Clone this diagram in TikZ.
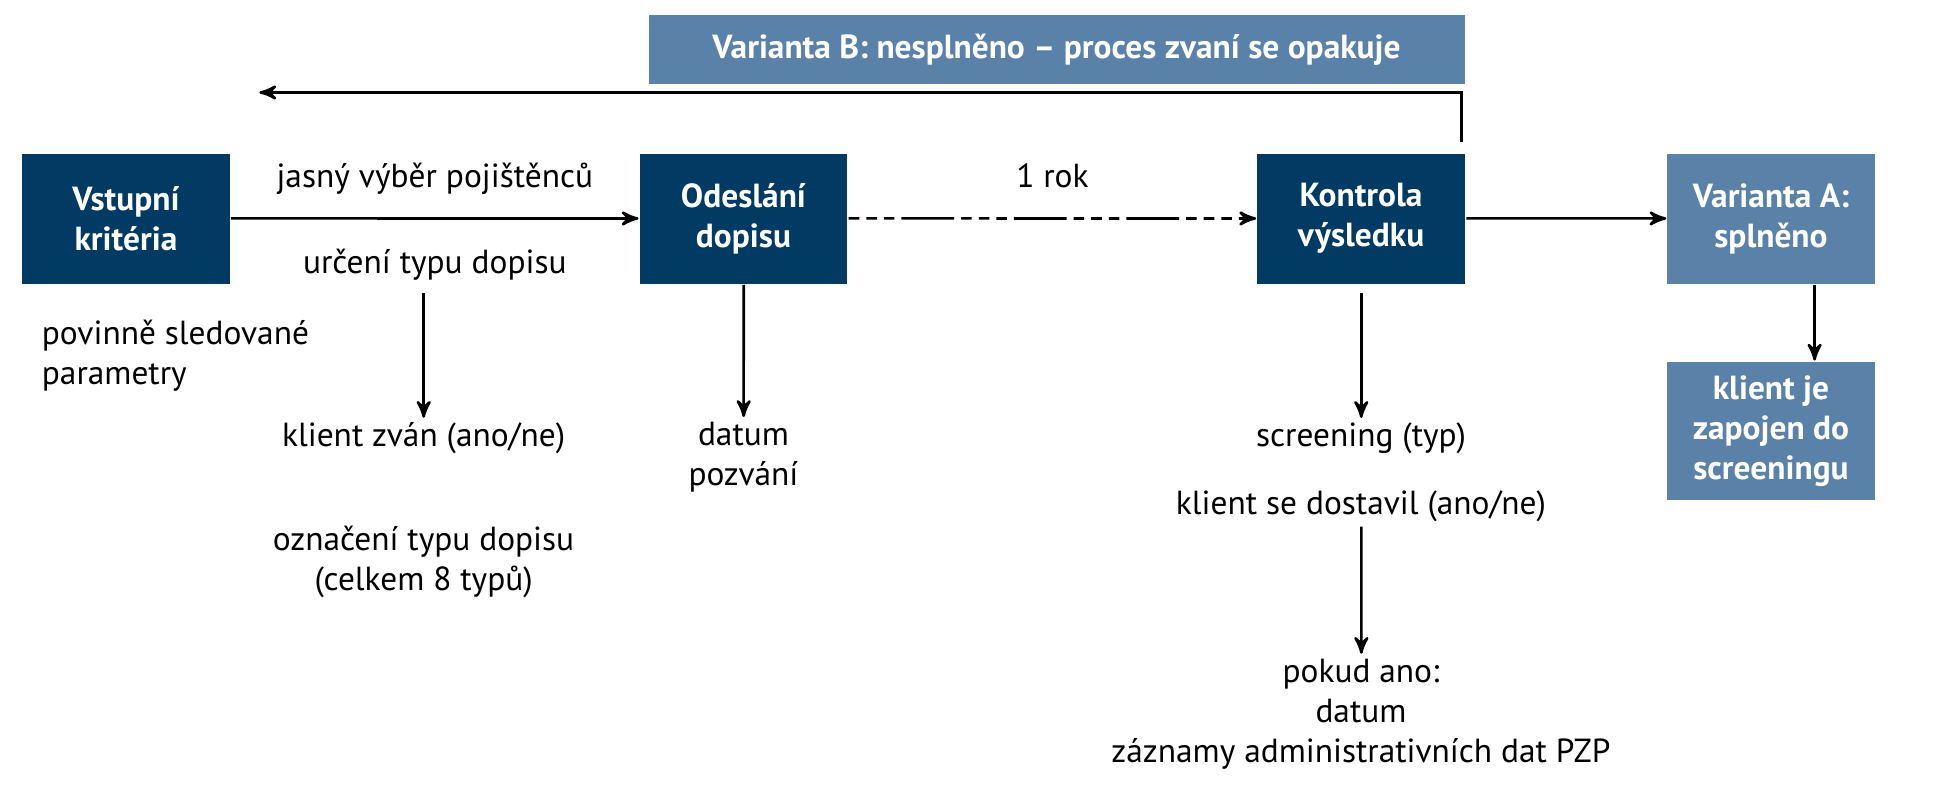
\documentclass[tikz,border=0pt]{standalone}
\usepackage{fontspec}
\setmainfont{PT Sans}
\usetikzlibrary{arrows,positioning}
\definecolor{navy}{HTML}{013A63}
\definecolor{steel}{HTML}{5A82A8}
\begin{document}
\begin{tikzpicture}[scale=1.235,->,>=stealth',line width=0.75pt,font=\fontsize{9.5}{11.4}\selectfont,
  dbox/.style={fill=navy,text=white,font=\fontsize{9.5}{11.4}\selectfont\bfseries,minimum width=2.075cm,minimum height=1.3cm,align=center,inner sep=1pt},
  lbox/.style={dbox,fill=steel},
  txt/.style={align=center,inner sep=1pt}]
\useasboundingbox (0,0) rectangle (15.66,6.48);
% main row
\node[dbox] (A) at (1.02,4.71) {Vstupní\\kritéria};
\node[dbox] (B) at (6.02,4.71) {Odeslání\\dopisu};
\node[dbox] (C) at (11.02,4.71) {Kontrola\\výsledku};
\node[lbox] (D) at (14.34,4.71) {Varianta A:\\splněno};
\node[lbox,minimum height=1.38cm] (E) at (14.34,2.99) {klient je\\zapojen do\\screeningu};
\node[lbox,minimum width=8.16cm,minimum height=0.69cm] (V) at (8.555,6.08) {Varianta B: nesplněno – proces zvaní se opakuje};
% texts
\node[txt,align=left,anchor=north west] (P) at (0.3,3.93) {povinně sledované\\parametry};
\node[txt] (T1) at (3.43,2.93) {klient zván (ano/ne)};
\node[txt] (T2) at (3.43,1.93) {označení typu dopisu\\(celkem 8 typů)};
\node[txt] (T3) at (6.02,2.78) {datum\\pozvání};
\node[txt] (T4) at (11.02,2.93) {screening (typ)};
\node[txt] (T5) at (11.02,2.38) {klient se dostavil (ano/ne)};
\node[txt] (T6) at (11.02,0.70) {pokud ano:\\datum\\záznamy administrativních dat PZP};
% connectors
\draw (A) -- node[above=3pt]{jasný výběr pojištěnců} node[below=5pt] (U){určení typu dopisu} (B);
\draw[dash pattern=on 3pt off 2pt on 3pt off 2pt on 3pt off 2pt on 15pt off 2pt] (B) -- node[above=5pt]{1 rok} (C);
\draw (C) -- (D);
\coordinate (Ctop) at (11.83,5.33);
\coordinate (Back) at (2.1,5.73);
\draw (Ctop) |- (Back);
\draw (U.south -| T1) -- (T1.north);
\draw (B) -- (T3);
\draw (U.south -| T4) -- (T4.north);
\draw (T5) -- (T6);
\draw ([xshift=0.35cm]D.south) -- ([xshift=0.35cm]E.north);
\end{tikzpicture}
\end{document}
